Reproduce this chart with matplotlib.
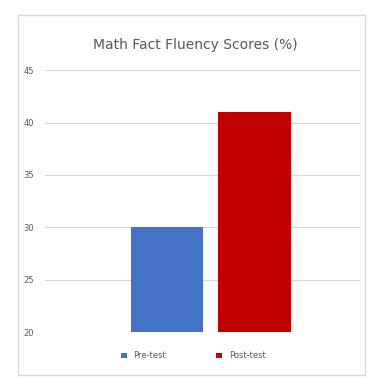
import matplotlib.pyplot as plt
from matplotlib.patches import Rectangle

# Data
series = ["Pre-test", "Post-test"]
scores = [30, 41]
colors = ["#4472C4", "#C00000"]
yticks = [20, 25, 30, 35, 40, 45]

fig = plt.figure(figsize=(3.69, 3.77), dpi=100)
fig.patch.set_facecolor("white")

# Excel-like chart border
fig.patches.append(Rectangle((18 / 369, 0.005), 0.99 - 18 / 369, 0.955,
                             transform=fig.transFigure, fill=False,
                             edgecolor="#D9D9D9", lw=1))

ax = fig.add_axes([0.122, 0.119, 0.854, 0.695])
bars = ax.bar(range(len(series)), scores, width=0.83, color=colors, label=series)
ax.set_xlim(-1.394, 2.206)
ax.set_ylim(yticks[0], yticks[-1])
ax.set_yticks(yticks)
ax.set_xticks([])
ax.tick_params(axis="y", length=0, labelsize=6, labelcolor="#595959", pad=8)
ax.grid(axis="y", color="#D9D9D9", lw=0.8)
ax.set_axisbelow(True)
for s in ax.spines.values():
    s.set_visible(False)

fig.text(0.53, 0.88, "Math Fact Fluency Scores (%)", ha="center", va="center",
         fontsize=10, color="#595959")

ax.legend(handles=bars, labels=series, loc="upper center",
          bbox_to_anchor=(0.47, -0.045), ncol=2, frameon=False, fontsize=6,
          handlelength=0.7, handleheight=0.7, columnspacing=6, labelcolor="#595959")

fig.savefig("out.png", dpi=100)
